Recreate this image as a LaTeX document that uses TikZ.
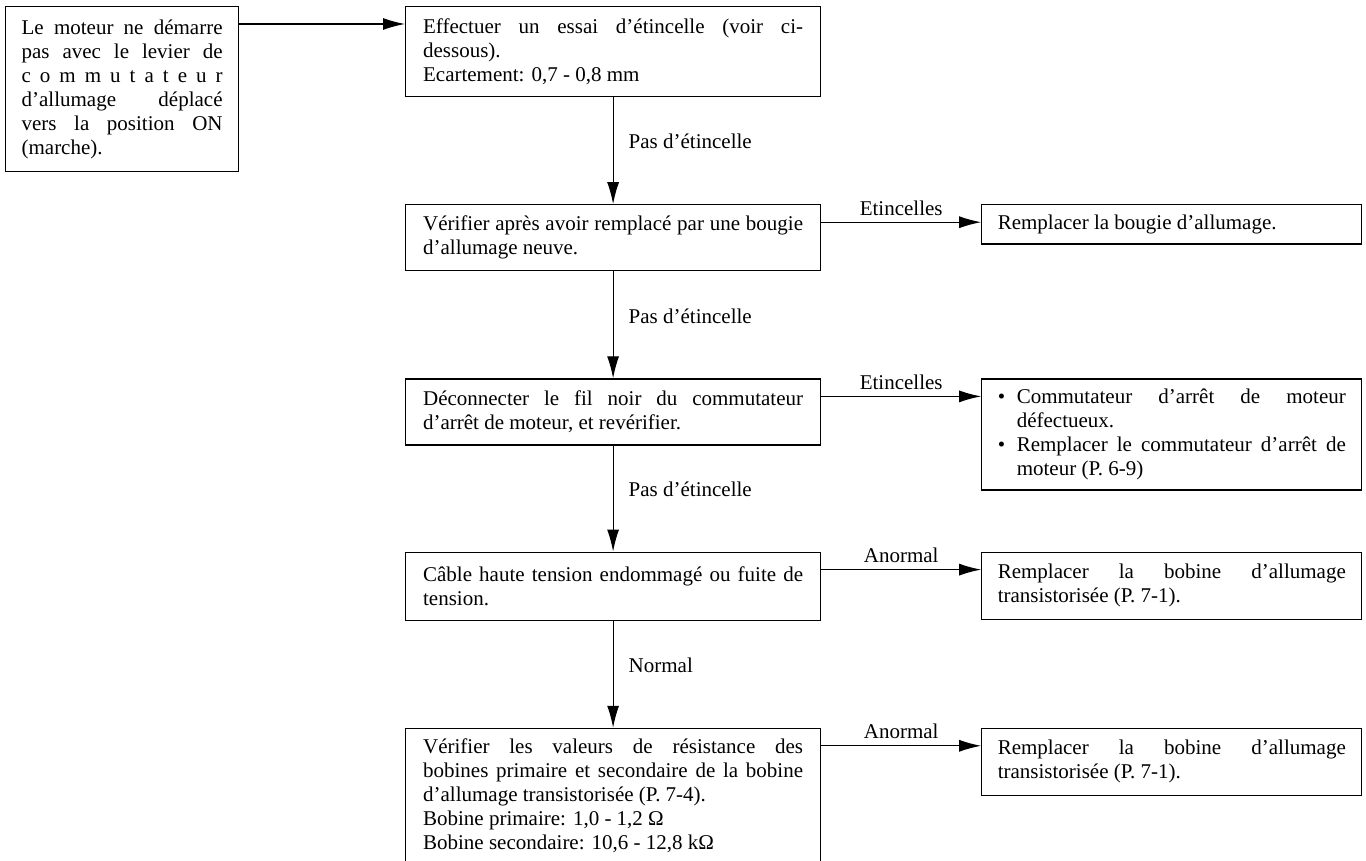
\documentclass[tikz,border=0pt]{standalone}
\usepackage{fontspec}
\setmainfont{Liberation Serif}
\usetikzlibrary{arrows.meta,positioning}

% bullet with hanging indent for the remedy lists
\newcommand{\bulletitem}{\noindent\hangindent=9.5pt\hangafter=1\makebox[9.5pt][l]{\textbullet}}

\begin{document}
\begin{tikzpicture}[x=0.5pt,y=-0.5pt,
  font=\fontsize{10.5pt}{12pt}\selectfont,
  box/.style={draw, line width=0.6pt, align=justify, text width=190pt, inner xsep=8.75pt, inner ysep=5pt},
  fix/.style={box, text width=174pt, inner xsep=8pt},
  lbl/.style={inner sep=0pt},
  arr/.style={line width=0.6pt, -{Latex[length=11pt,width=6pt]}}]

\useasboundingbox (0,0) rectangle (1366,861);

\node(s)[box, text width=100.5pt, inner xsep=8pt, minimum height=82.5pt, anchor=north west] at (5,6)
  {Le moteur ne démarre\linebreak pas avec le levier de\linebreak c o m m u t a t e u r\linebreak d'allumage déplacé\linebreak vers la position ON\linebreak (marche).};

\node(c1)[box, minimum height=45pt, anchor=north west] at (405,6)
  {Effectuer un essai d'étincelle (voir ci-\linebreak dessous).\\ Ecartement: 0,7 - 0,8 mm};

\node(c2)[box, minimum height=33pt, below = 53.5pt of c1]
  {Vérifier après avoir remplacé par une bougie\linebreak d'allumage neuve.};

\node(c3)[box, minimum height=33pt, below = 53.5pt of c2]
  {Déconnecter le fil noir du commutateur\linebreak d'arrêt de moteur, et revérifier.};

\node(c4)[box, minimum height=34pt, below = 53pt of c3]
  {Câble haute tension endommagé ou fuite de\linebreak tension.};

% runs off the bottom of the page
\node(c5)[box, text depth=60pt, below = 53.5pt of c4]
  {Vérifier les valeurs de résistance des\linebreak bobines primaire et secondaire de la bobine\linebreak d'allumage transistorisée (P. 7-4).\\ Bobine primaire: 1,0 - 1,2 Ω\\ Bobine secondaire: 10,6 - 12,8 kΩ};

\node(r1)[fix, minimum height=18.5pt, right = 80pt of c2.north east, anchor=north west]
  {Remplacer la bougie d'allumage.};

\node(r2)[fix, minimum height=55.5pt, right = 80pt of c3.north east, anchor=north west]
  {\bulletitem Commutateur d'arrêt de moteur\linebreak défectueux.\par
   \bulletitem Remplacer le commutateur d'arrêt de\linebreak moteur (P. 6-9)\par};

\node(r3)[fix, minimum height=33.5pt, right = 80pt of c4.north east, anchor=north west]
  {Remplacer la bobine d'allumage\linebreak transistorisée (P. 7-1).};

\node(r4)[fix, minimum height=33.5pt, right = 80pt of c5.north east, anchor=north west]
  {Remplacer la bobine d'allumage\linebreak transistorisée (P. 7-1).};

\draw[arr] ([yshift=-9pt]s.north east) -- ([yshift=-9pt]c1.north west);

\draw[arr] (c1) -- (c2) node[lbl, midway, right=7.5pt, yshift=4.5pt] {Pas d'étincelle};

\draw[arr] (c2) -- (c3) node[lbl, midway, right=7.5pt, yshift=4.5pt] {Pas d'étincelle};

\draw[arr] (c3) -- (c4) node[lbl, midway, right=7.5pt, yshift=4.5pt] {Pas d'étincelle};

\draw[arr] (c4) -- (c5) node[lbl, midway, right=7.5pt, yshift=4.5pt] {Normal};

\draw[arr] ([yshift=-9pt]c2.north east) -- ([yshift=-9pt]r1.north west) node[lbl, midway, above=3pt] {Etincelles};

\draw[arr] ([yshift=-9pt]c3.north east) -- ([yshift=-9pt]r2.north west) node[lbl, midway, above=3pt] {Etincelles};

\draw[arr] ([yshift=-9pt]c4.north east) -- ([yshift=-9pt]r3.north west) node[lbl, midway, above=3pt] {Anormal};

\draw[arr] ([yshift=-9pt]c5.north east) -- ([yshift=-9pt]r4.north west) node[lbl, midway, above=3pt] {Anormal};

\end{tikzpicture}
\end{document}
